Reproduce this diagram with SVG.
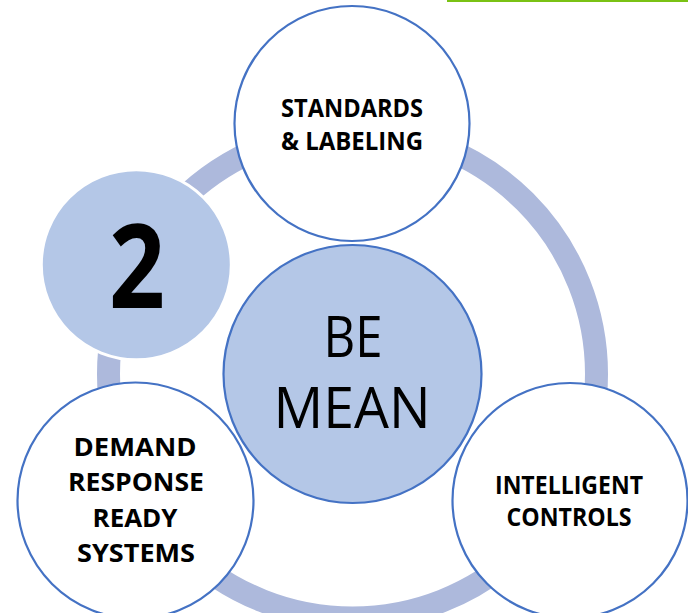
<svg xmlns="http://www.w3.org/2000/svg" width="688" height="613" viewBox="0 0 688 613">
<style>
.node{fill:#ffffff;stroke:#4472c4;stroke-width:2.2}
.lbl{font-family:"Open Sans","Liberation Sans",sans-serif;font-weight:bold;font-size:24.5px;fill:#000;text-anchor:middle}
.big{font-family:"Open Sans","Liberation Sans",sans-serif;font-size:56px;fill:#000;text-anchor:middle}
</style>
<rect id="green-line" x="447" y="0" width="241" height="2" fill="#7ac214"/>
<g id="connectors">
<circle cx="352.5" cy="374" r="244" fill="none" stroke="#adb9dc" stroke-width="23"/>
</g>
<g id="number">
<circle cx="136.3" cy="264.7" r="95" fill="#b4c7e7" stroke="#ffffff" stroke-width="3"/>
<text x="137" y="308" font-family="'Open Sans','Liberation Sans',sans-serif" font-weight="bold" font-size="116" text-anchor="middle" textLength="56" lengthAdjust="spacingAndGlyphs">2</text>
</g>
<g id="standards">
<circle class="node" cx="352" cy="123.5" r="117.5"/>
<text class="lbl" x="352" y="117" textLength="142" lengthAdjust="spacingAndGlyphs">STANDARDS</text>
<text class="lbl" x="352" y="150" textLength="142" lengthAdjust="spacingAndGlyphs">&amp; LABELING</text>
</g>
<g id="center">
<circle cx="352.5" cy="374" r="129" fill="#b4c7e7" stroke="#4472c4" stroke-width="2.2"/>
<text class="big" x="353" y="357" textLength="59" lengthAdjust="spacingAndGlyphs">BE</text>
<text class="big" x="352" y="428" textLength="157" lengthAdjust="spacingAndGlyphs">MEAN</text>
</g>
<g id="demand">
<circle class="node" cx="135.5" cy="500.5" r="118"/>
<text class="lbl" x="135" y="456" textLength="123" lengthAdjust="spacingAndGlyphs">DEMAND</text>
<text class="lbl" x="136" y="491" textLength="136" lengthAdjust="spacingAndGlyphs">RESPONSE</text>
<text class="lbl" x="135" y="526.5" textLength="85" lengthAdjust="spacingAndGlyphs">READY</text>
<text class="lbl" x="136" y="561.5" textLength="118" lengthAdjust="spacingAndGlyphs">SYSTEMS</text>
</g>
<g id="intelligent">
<circle class="node" cx="570" cy="500.5" r="117.5"/>
<text class="lbl" x="569" y="493.5" textLength="148" lengthAdjust="spacingAndGlyphs">INTELLIGENT</text>
<text class="lbl" x="569" y="526" textLength="125" lengthAdjust="spacingAndGlyphs">CONTROLS</text>
</g>
</svg>
